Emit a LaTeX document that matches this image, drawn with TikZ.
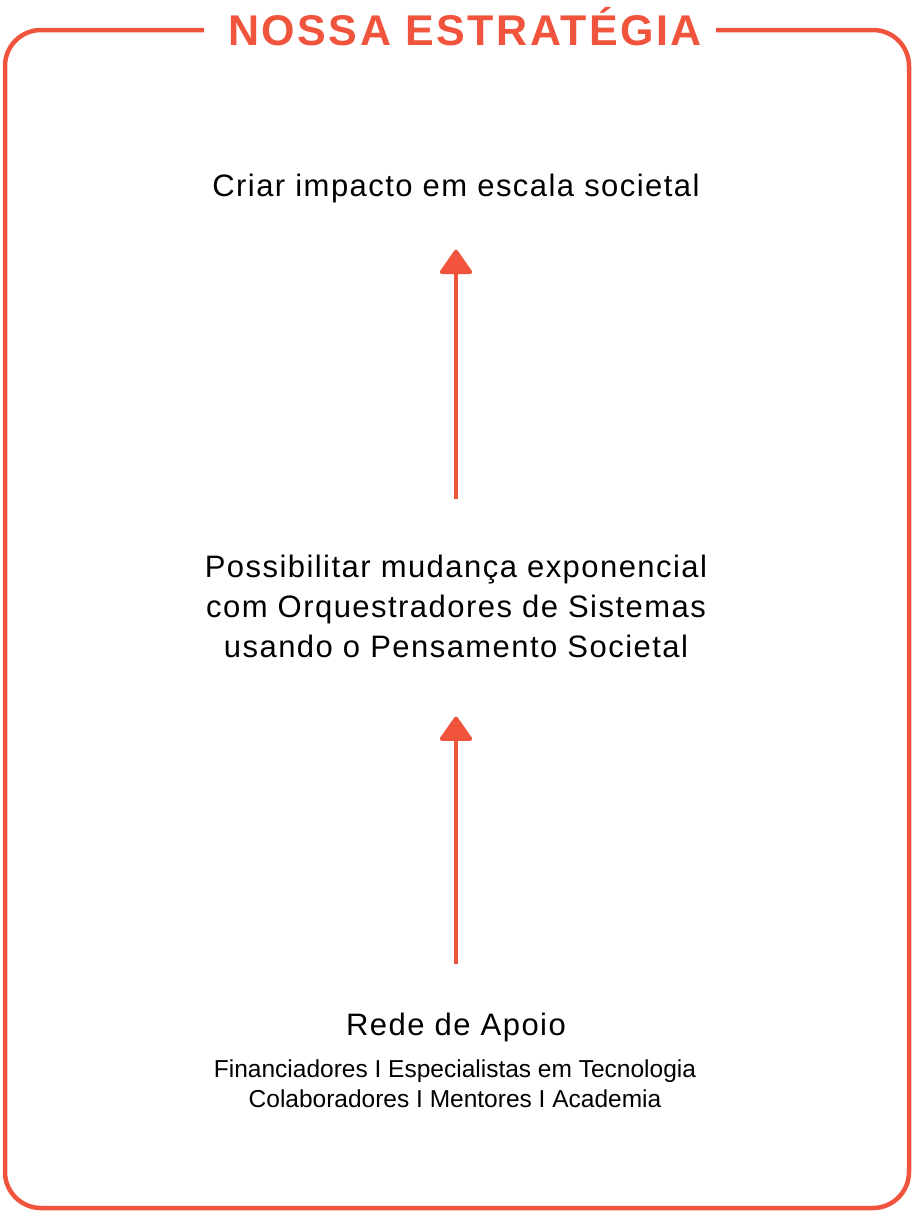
\documentclass[tikz,border=0pt]{standalone}
\usepackage{fontspec}
\setmainfont{Liberation Sans}
\newfontfamily\titlefont[LetterSpace=5.7]{Liberation Sans}
\newfontfamily\bodyfont[LetterSpace=4.7]{Liberation Sans}
\newfontfamily\smallfont{Liberation Sans}
\usetikzlibrary{arrows.meta}
\definecolor{accent}{RGB}{241,84,61}
\tikzset{
  frame/.style={draw=accent, line width=4.5pt, rounded corners=36pt},
  heading/.style={text=accent, inner sep=0pt, anchor=base,
    font=\titlefont\bfseries\fontsize{43}{48}\selectfont},
  body/.style={text=black, inner sep=0pt, anchor=base, align=center,
    font=\bodyfont\fontsize{31}{40}\selectfont},
  small/.style={text=black, inner sep=0pt, anchor=base, align=center,
    font=\smallfont\fontsize{24.5}{30}\selectfont},
  arr/.style={draw=accent, line width=4pt,
    -{Triangle[width=35pt,length=26pt,round]}}
}
\begin{document}
\begin{tikzpicture}[x=1pt,y=-1pt]
\useasboundingbox (0,0) rectangle (915,1218);
\draw[frame] (204,30) -- (5,30) -- (5,1208) -- (909,1208) -- (909,30) -- (716,30);
\node[heading] (title) at (465,45) {NOSSA ESTRATÉGIA};
\node[body] (goal) at (456,196) {Criar impacto em escala societal};
\node[body] (enable) at (456,657) {Possibilitar mudança exponencial\\com Orquestradores de Sistemas\\usando o Pensamento Societal};
\node[body] (rede) at (456,1035) {Rede de Apoio};
\node[small] (members) at (455,1107) {Financiadores I Especialistas em Tecnologia\\Colaboradores I Mentores I Academia};
\draw[arr, shorten <=55pt, shorten >=47pt] (enable.north) -- (goal.south);
\draw[arr, shorten <=48pt, shorten >=59pt] (rede.north) -- (enable.south);
\end{tikzpicture}
\end{document}
